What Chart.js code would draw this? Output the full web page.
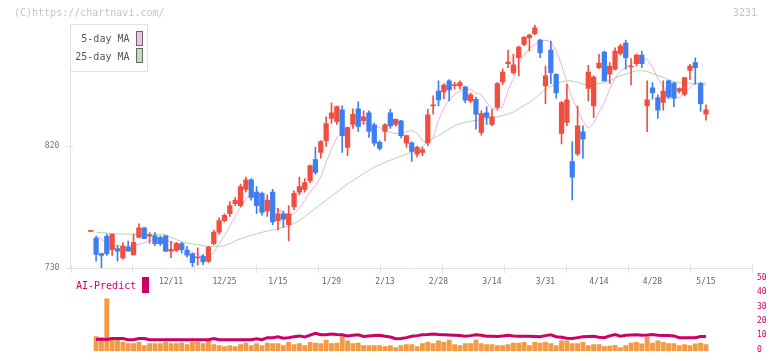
<!DOCTYPE html>
<html><head><meta charset="utf-8">
<script src="https://cdn.jsdelivr.net/npm/chart.js@4/dist/chart.umd.min.js"></script>
<style>
html,body{margin:0;padding:0;background:#fff;}
#wrap{position:relative;width:772px;height:361px;overflow:hidden;font-family:'DejaVu Sans Mono',monospace;}
canvas{position:absolute;left:0;top:0;}
.t{position:absolute;white-space:nowrap;font-size:10px;line-height:12px;}
.sw{position:absolute;width:7px;height:15px;box-sizing:border-box;border:1px solid #666;}
</style></head><body>
<div id="wrap">
<canvas id="main" width="772" height="361"></canvas>
<canvas id="vol" width="772" height="361"></canvas>
<div class="t" style="left:14px;top:6.5px;color:#c4c4c4;">(C)https://chartnavi.com/</div>
<div class="t" style="left:733px;top:6.5px;color:#c4c4c4;">3231</div>
<div style="position:absolute;left:70px;top:23.5px;width:78px;height:48px;box-sizing:border-box;border:1px solid #e0e0e0;"></div>
<div class="t" style="left:70px;width:59.5px;text-align:right;top:33px;color:#555;">5-day MA</div>
<div class="sw" style="left:136px;top:31px;background:#f0c0f0;"></div>
<div class="t" style="left:70px;width:59.5px;text-align:right;top:51px;color:#555;">25-day MA</div>
<div class="sw" style="left:136px;top:48px;background:#bfe0b0;"></div>
<div class="t" style="left:76px;top:280px;color:#cc0066;">AI-Predict</div>
<div style="position:absolute;left:142px;top:277px;width:7px;height:16px;background:#cc0066;"></div>
</div>
<script>
// ---- data ----
const tickLabels = ['12/11','12/25','1/15','1/29','2/13','2/28','3/14','3/31','4/14','4/28','5/15'];
const tickIndex = [15,25,35,45,55,65,75,85,95,105,115];
const yTicks = [730, 820];
const volTicks = [0,10,20,30,40,50];

const openP = [757,752,740.6,753.3,743.5,744.3,737.4,745.4,739.6,752.6,
759.7,753.5,753.8,752.4,753.8,742.5,743,748,743,740.5,
737.5,738.6,735,748,756.5,765,770,777.5,776,788,
795,786,785,772,786,765,770,762,775,786,
788,794.5,810,815.3,824,840.3,838,846.7,819,835.9,
847.4,838.6,844.5,835.7,822.7,830.8,844.5,835.9,838.6,822,
822.4,813.9,815.3,822.2,849.5,860.6,859.9,868,864.5,864.3,
863.6,853.3,854.5,830,844.5,835.9,848.4,867.3,880.7,874.1,
885.1,895,899.9,902.8,898.1,864.3,890.8,872.9,829.3,837.4,
808.5,814.1,830.5,862.4,849.6,877.8,889.3,872.9,876.6,888.3,
895.9,878.3,880.7,887.1,849.6,863,855.7,852.1,868,866.5,
860.4,858.2,875.8,881.5,866,843.5];
const highP = [757,753.3,741,755,755,746.7,748.7,749.9,754.8,762.6,
760,756.2,756.2,753.8,754,749.6,749,749,746,741,
744.8,740,746,758,767,770,779,782,792,797,
796,790,786,784,788,774,772,776,787,797,
796,806,819,824,841.5,851.8,849.5,849.6,834,847.4,
852.6,846,846,837,824,836.6,847,840,839,828,
823,820,819,847,857,868,866,869,867,868,
864,859,856,846,848.9,847,867,877,890.8,887.6,
893.7,900.5,902.5,909.2,898.6,879,897.4,873.5,853,865.5,
823.2,849.6,834.9,879.5,871.7,887.6,890,881.5,892.5,895,
898.1,884.4,888,890,868,866.8,857.7,868,868.5,867,
863,870.5,880.3,885.1,867,850.4];
const lowP = [757,735,730,739.3,739.3,735,736.6,742.5,739.6,752.6,
751.6,748.4,746.5,746.5,742,737.6,742,741,738,731,
732,732.5,734,747,755,764,768,776,775,786,
780,770,769,768,762,758,760,750,773,784,
786,793,799,811,819.7,836.6,836,815.3,812.9,833,
830.8,836,826.4,820,817,823.9,833,834.7,826,819,
808.7,812,812.9,820.2,843.5,849.6,855,853.3,862,862,
852,852,832.5,828,836,835,847,865.5,877.8,873,
871.7,894,890,902,885.1,851.3,866,855.3,821.5,835,
780.3,812.9,810.9,853.3,841,877,868,866,876,887,
876.6,865,879,877.8,830.5,854.5,840.3,846.4,855,848.9,
859,857,869.2,865.5,845.5,839.1];
const closeP = [757,740,739.3,740.6,754.8,742.5,746,742.5,748.9,759.7,
751.6,754.5,747.9,747.9,742.5,743.8,748,743.5,739.5,734,
738.2,734.5,745.5,756.5,765,768.8,776,780,790,795,
782,776,771,780,764,770,766,770,785,790,
793,805.5,800.6,823.2,836.6,844.5,849,827.6,833.5,843.3,
834.4,841.5,830.8,822,818.3,835.7,834.9,839.6,827.6,827.6,
816,819,817.3,843,850.4,854,865,861.4,865,866.8,
853.8,857.7,843.5,844,841,841.5,866,874.6,882,879.8,
893,900.3,901.8,907.2,888.8,871.7,874.1,859.4,852.1,854,
797,834.9,825.1,874.6,870.9,881.2,868,879,890.1,893.7,
885.1,878.5,887.1,880.7,854,859.4,846.4,860.6,856.2,855.3,
862.4,870.5,879,877.8,851.3,846.7];
const ma5 = [null,754.5,751,748.5,747.5,746.5,746.3,746,746.3,747.5,
748.5,750,751.5,752,751,749,748,746,744,741.5,
740,738.5,738,741.5,748,754,761,768,775,781,
784,785,783,780,776,773,771,768,770,774,
780,786,791,797,808,818,826,830,833,835.5,
836.5,837,836.6,835,833.5,831.5,830,829,829.5,830.5,
831.5,829.5,824,822.7,826,839,848,854,858,860.5,
861.5,862,859,858,852,848,846,849,861,870,
881,887,892,895,897.4,898,897,890,880,867,
855,847,838,833,837,845,852,862,870,875,
878,880,883,884.5,884,878,870,864,859,855.5,
856,859,863,866.5,865.5,865];
const ma25 = [null,756.5,756,755.8,755.4,755.2,755.1,755,755,754.9,
754.9,754.8,754.8,754.7,754.6,752.5,751,749.5,748.4,747.8,
747.2,746.6,746,746,746,746.5,748,750,751.5,752.9,
754,755.3,756.3,757.3,758,759,760,761,763,765,
768,771,774,777,780,783,786,789,792,794.5,
797,799.5,802,804.5,806,808,809.5,811,812.5,814,
815.5,817.5,820,823,825.5,827.6,830,832.5,835,836.5,
837.5,838.3,839,839.3,840,840.5,841.5,842.5,843.7,845,
847.5,850,852,855,858.5,862,864,866,867.3,868,
868,867,865.5,865,865.3,866,867,868,870,871.7,
873,874.3,875.5,875.6,875,873.5,872,870.5,869,867.5,
866.8,866.5,866.3,866.3,866.3,866.3];
const volume = [null,9.2,7.8,35.5,7.8,6.7,5.2,4.2,4.2,5.2,
2.9,4.2,4.2,4.2,5.2,4.2,4.2,4.6,3.5,5.2,
5.2,4.2,6.1,3.5,2.9,2.1,2.9,2.1,3.5,4.6,
2.9,4.2,2.9,4.6,4.2,4.2,2.9,5.2,3.5,4.2,
2.9,5.2,4.6,4.2,6.7,4.2,4.6,9.2,6.1,4.2,
4.6,2.9,2.9,2.9,2.9,2.1,2.9,1.5,2.9,3.5,
3.5,2.1,4.2,5.2,4.2,6.1,5.2,6.7,3.5,2.9,
4.2,4.2,6.7,4.2,3.5,3.5,2.9,2.9,3.5,4.6,
4.6,5.2,2.9,5.2,4.6,5.2,4.2,2.9,6.1,6.1,
4.2,4.2,5.2,2.9,3.5,3.5,2.1,2.5,3.1,1.5,
2.9,4.6,5.2,4.0,8.8,4.6,6.1,5.2,4.2,4.2,
2.9,3.5,2.9,4.0,4.6,3.5];
const aiPredict = [null,7.1,7.4,7.1,7.8,7.8,7.8,7.0,7.0,7.8,
7.8,7.0,7.0,7.0,7.0,7.0,7.0,7.0,7.0,7.0,
7.0,7.0,7.0,7.8,7.0,7.0,7.0,7.0,7.0,7.0,
7.0,7.6,7.0,8.4,8.4,9.0,8.0,8.4,9.0,9.6,
8.8,10.2,11.4,10.4,10.4,11.0,10.6,10.4,9.6,10.0,
10.4,9.2,9.6,9.8,10.0,9.4,8.8,7.6,7.8,8.4,
9.3,9.8,10.4,10.6,11.0,10.6,10.4,10.2,10.0,9.8,
9.4,9.8,10.4,10.0,9.4,9.4,9.2,9.6,10.0,9.6,
9.4,9.4,9.4,9.2,9.0,9.8,10.4,9.0,8.6,8.0,
7.8,8.4,9.0,9.2,9.4,8.6,8.4,9.6,10.6,9.4,
10.0,10.2,10.4,10.0,10.2,10.6,10.0,9.8,9.8,9.6,
8.4,8.4,8.4,8.4,9.2,9.2];

// ---- chart ----
Chart.defaults.font.family = "'DejaVu Sans Mono', monospace";
const X_MIN = -3.785, X_MAX = 123.6;
const idx = openP.map((_, i) => i);
const UP = '#f04e3e', DOWN = '#3f7ef0';
const cColor = idx.map(i => closeP[i] >= openP[i] ? UP : DOWN);

const crossTicks = {
  id: 'crossTicks',
  afterDraw(chart) {
    const {ctx, chartArea: a, scales} = chart;
    ctx.save();
    ctx.strokeStyle = '#e0e0e0';
    ctx.lineWidth = 1;
    ctx.beginPath();
    for (let k = 0; k <= 11; k++) {
      const x = Math.round(a.left + (a.right - a.left) * k / 11) + 0.5;
      ctx.moveTo(x, a.bottom - 3); ctx.lineTo(x, a.bottom + 5);
    }
    for (const v of yTicks) {
      const y = Math.round(scales.y.getPixelForValue(v)) + 0.5;
      ctx.moveTo(a.left - 5, y); ctx.lineTo(a.left + 3, y);
    }
    ctx.stroke();
    ctx.restore();
  }
};

new Chart(document.getElementById('main'), {
  type: 'bar',
  data: {
    datasets: [
      {type:'bar', label:'body', data: idx.map(i => ({x:i, y:[openP[i], closeP[i]]})),
       backgroundColor: cColor, barThickness: 4.6, minBarLength: 1, grouped: false, order: 1},
      {type:'bar', label:'wick', data: idx.map(i => ({x:i, y:[lowP[i], highP[i]]})),
       backgroundColor: cColor, barThickness: 1, grouped: false, order: 2},
      {type:'line', label:'5-day MA', data: idx.map(i => ({x:i, y:ma5[i]})),
       borderColor:'#e8b0e8', borderWidth:1, pointRadius:0, tension:0, order: 3},
      {type:'line', label:'25-day MA', data: idx.map(i => ({x:i, y:ma25[i]})),
       borderColor:'#b0d8a0', borderWidth:1, pointRadius:0, tension:0, order: 4}
    ]
  },
  options: {
    responsive:false, animation:false,
    layout:{padding:{left:0, top:24, right:20, bottom:0}},
    plugins:{legend:{display:false}, tooltip:{enabled:false}},
    scales:{
      x:{type:'linear', min:X_MIN, max:X_MAX, offset:false,
         grid:{display:false, drawTicks:false, offset:false},
         border:{display:true, color:'#e0e0e0', width:1},
         ticks:{autoSkip:false, maxRotation:0, minRotation:0, padding:9.5, color:'#666', font:{size:8},
                callback:(v) => { const k = tickIndex.indexOf(v); return k >= 0 ? tickLabels[k] : ''; }},
         afterBuildTicks:(s) => { s.ticks = tickIndex.map(v => ({value:v})); },
         afterFit:(s) => { s.height = 93; }},
      y:{type:'linear', min:730, max:910,
         grid:{display:false, drawTicks:false},
         border:{display:true, color:'#e0e0e0', width:1},
         ticks:{padding:11.2, color:'#777', font:{size:8}},
         afterBuildTicks:(s) => { s.ticks = yTicks.map(v => ({value:v})); },
         afterFit:(s) => { s.width = 70.5; }}
    }
  },
  plugins:[crossTicks]
});

new Chart(document.getElementById('vol'), {
  type: 'bar',
  data: {
    datasets: [
      {type:'line', label:'AI-Predict', data: idx.map(i => ({x:i, y:aiPredict[i]})),
       borderColor:'#cc0066', borderWidth:3, pointRadius:0, tension:0, order:1},
      {type:'bar', label:'Volume', data: idx.map(i => ({x:i, y:volume[i]})),
       backgroundColor:'#f29a44', barThickness:4.2, base:-1.07, grouped:false, order:2}
    ]
  },
  options: {
    responsive:false, animation:false,
    layout:{padding:{left:70.5, top:278, right:0, bottom:2}},
    plugins:{legend:{display:false}, tooltip:{enabled:false}},
    scales:{
      x:{type:'linear', min:X_MIN, max:X_MAX, offset:false, display:false},
      y:{type:'linear', position:'right', min:-1.07, max:50,
         grid:{display:false, drawTicks:false},
         border:{display:false},
         ticks:{padding:5, color:'#cc0066', font:{size:8}},
         afterBuildTicks:(s) => { s.ticks = volTicks.map(v => ({value:v})); },
         afterFit:(s) => { s.width = 20; }}
    }
  }
});
</script>
</body></html>
